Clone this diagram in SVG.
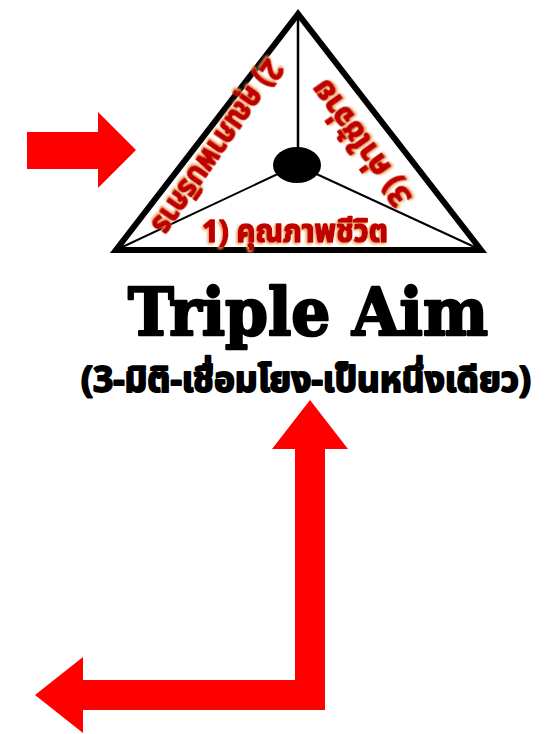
<svg xmlns="http://www.w3.org/2000/svg" width="548" height="734" viewBox="0 0 548 734">
<defs>
<filter id="glow" x="-10%" y="-30%" width="120%" height="160%">
<feDropShadow dx="-1.5" dy="1.5" stdDeviation="0.8" flood-color="#f0a060" flood-opacity="1"/>
</filter>
</defs>
<style>
.arrow{fill:#ff0000;stroke:none}
.edge{fill:none;stroke:#000}
.red{font-family:"Noto Sans Thai","Noto Sans","DejaVu Sans",sans-serif;font-weight:bold;font-size:31px;fill:#c00000;stroke:#c00000;stroke-width:1.6;stroke-linejoin:round;text-anchor:middle;filter:url(#glow)}
.title{font-family:"DejaVu Serif","Liberation Serif",serif;font-weight:bold;font-size:66px;fill:#000;stroke:#000;stroke-width:2.5;stroke-linejoin:round;text-anchor:middle}
.sub{font-family:"Noto Sans Thai","Noto Sans","DejaVu Sans",sans-serif;font-weight:bold;font-size:35px;fill:#000;stroke:#000;stroke-width:2;stroke-linejoin:round;text-anchor:middle}
</style>
<rect width="548" height="734" fill="#fff"/>
<g id="connectors">
<polygon id="arrow-right" class="arrow" points="27,132 98,132 98,112 136,150 98,188 98,169 27,169"/>
<polygon id="arrow-l" class="arrow" points="310,400 348,449 325,449 325,710 83,710 83,733 35,695 83,657 83,680 295,680 295,449 272,449"/>
<line class="edge" x1="298" y1="14" x2="298" y2="152" stroke-width="2.5"/>
<line class="edge" x1="297" y1="165" x2="116" y2="250" stroke-width="2"/>
<line class="edge" x1="297" y1="165" x2="481" y2="250" stroke-width="2"/>
</g>
<g id="triangle">
<polygon points="298,14 116,250 481,250" fill="none" stroke="#000" stroke-width="6" stroke-linejoin="miter"/>
</g>
<g id="center">
<ellipse cx="297" cy="165" rx="24" ry="18" fill="#000"/>
</g>
<g id="aim1">
<text class="red" x="295" y="242" textLength="186" lengthAdjust="spacingAndGlyphs">1) คุณภาพชีวิต</text>
</g>
<g id="aim2">
<text class="red" transform="translate(209,141) rotate(125)" x="0" y="0" textLength="205" lengthAdjust="spacingAndGlyphs">2) คุณภาพบริการ</text>
</g>
<g id="aim3">
<text class="red" transform="translate(370,137) rotate(234.5)" x="0" y="0" textLength="148" lengthAdjust="spacingAndGlyphs">3) ค่าใช้จ่าย</text>
</g>
<g id="title">
<text class="title" x="308" y="335" textLength="360" lengthAdjust="spacingAndGlyphs">Triple Aim</text>
<text class="sub" x="306" y="392" textLength="450" lengthAdjust="spacingAndGlyphs">(3-มิติ-เชื่อมโยง-เป็นหนึ่งเดียว)</text>
</g>
</svg>
